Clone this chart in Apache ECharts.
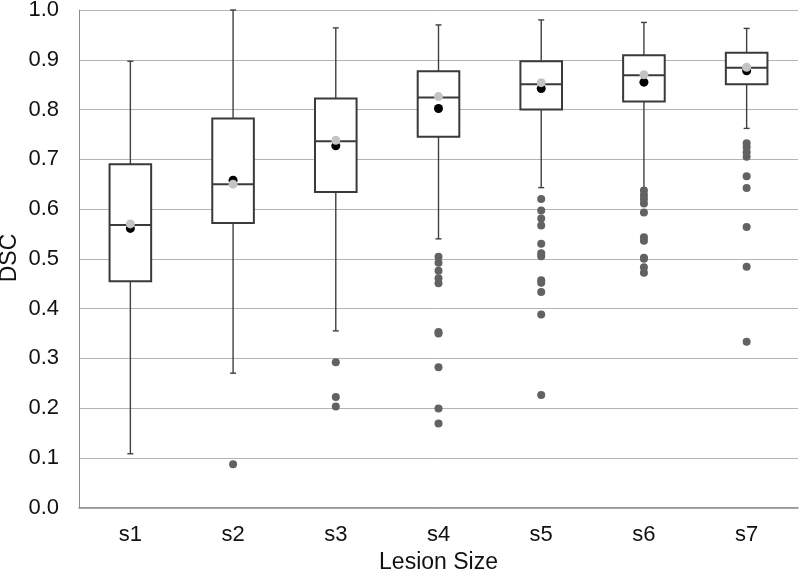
<!DOCTYPE html>
<html>
<head>
<meta charset="utf-8">
<script src="https://cdn.jsdelivr.net/npm/echarts@6/dist/echarts.min.js"></script>
<style>html,body{margin:0;padding:0;background:#fff}#c{width:800px;height:576px}</style>
</head>
<body>
<div id="c"></div>
<script>
const categories = ['s1','s2','s3','s4','s5','s6','s7'];
// [low whisker, Q1, median, Q3, high whisker]
const boxStats = [
  [0.108, 0.455, 0.568, 0.690, 0.897],
  [0.270, 0.572, 0.650, 0.782, 1.000],
  [0.355, 0.634, 0.736, 0.822, 0.964],
  [0.540, 0.745, 0.824, 0.877, 0.970],
  [0.643, 0.800, 0.851, 0.897, 0.980],
  [0.642, 0.816, 0.869, 0.909, 0.975],
  [0.762, 0.851, 0.884, 0.914, 0.963]
];
const meanBlack = [0.561, 0.658, 0.727, 0.802, 0.842, 0.855, 0.878];
const markGray = [0.570, 0.650, 0.738, 0.826, 0.854, 0.870, 0.885];
const outliers = [
  [],
  [0.087],
  [0.292, 0.222, 0.203],
  [0.504, 0.492, 0.476, 0.461, 0.451, 0.353, 0.350, 0.282, 0.199, 0.169],
  [0.620, 0.597, 0.581, 0.567, 0.530, 0.511, 0.505, 0.457, 0.452, 0.433, 0.388, 0.226],
  [0.637, 0.628, 0.620, 0.611, 0.593, 0.543, 0.536, 0.502, 0.500, 0.483, 0.472],
  [0.732, 0.724, 0.714, 0.705, 0.666, 0.642, 0.564, 0.484, 0.333]
];
const yTicks = ['0.0','0.1','0.2','0.3','0.4','0.5','0.6','0.7','0.8','0.9','1.0'];
const xTitle = 'Lesion Size';
const yTitle = 'DSC';

const boxData = boxStats.map((s, i) => [i].concat(s));
const blackData = meanBlack.map((v, i) => [i, v]);
const grayData = markGray.map((v, i) => [i, v]);
const outData = [];
outliers.forEach((arr, i) => arr.forEach(v => outData.push([i, v])));

const FONT = 'Liberation Sans, Arial, sans-serif';
const chart = echarts.init(document.getElementById('c'));
chart.setOption({
  animation: false,
  grid: { left: 79, right: 2, top: 10, bottom: 68.5, containLabel: false, outerBoundsMode: 'none' },
  graphic: [{
    type: 'text',
    x: 10, y: 258,
    rotation: Math.PI / 2,
    style: {
      text: yTitle, fill: '#111',
      font: '23px "Liberation Sans", Arial, sans-serif',
      textAlign: 'center', textVerticalAlign: 'middle', verticalAlign: 'middle', align: 'center'
    }
  }],
  xAxis: {
    type: 'category',
    data: categories,
    boundaryGap: true,
    axisTick: { show: false },
    axisLine: { lineStyle: { color: '#8c8c8c', width: 1.5 } },
    axisLabel: { fontSize: 22, color: '#111', margin: 16, fontFamily: FONT },
    name: xTitle,
    nameLocation: 'middle',
    nameGap: 44,
    nameTextStyle: { fontSize: 23, color: '#111', fontFamily: FONT }
  },
  yAxis: {
    type: 'value',
    min: 0, max: 1, interval: 0.1,
    axisTick: { show: false },
    axisLine: { show: true, lineStyle: { color: '#8c8c8c', width: 1 } },
    splitLine: { lineStyle: { color: '#b4b4b4', width: 1 } },
    axisLabel: {
      fontSize: 22, color: '#111', margin: 20, fontFamily: FONT,
      formatter: v => yTicks[Math.round(v * 10)]
    }
  },
  series: [
    {
      type: 'custom',
      data: boxData,
      z: 2,
      renderItem: function (params, api) {
        const idx = api.value(0);
        const pLow = api.coord([idx, api.value(1)]);
        const pQ1 = api.coord([idx, api.value(2)]);
        const pMed = api.coord([idx, api.value(3)]);
        const pQ3 = api.coord([idx, api.value(4)]);
        const pHigh = api.coord([idx, api.value(5)]);
        const w = api.size([1, 0])[0] * 0.405;
        const cx = pMed[0];
        const cap = 3;
        const wStyle = { stroke: '#404040', lineWidth: 1.4 };
        const bStyle = { stroke: '#3a3a3a', lineWidth: 2, fill: '#fff' };
        return {
          type: 'group',
          children: [
            { type: 'line', shape: { x1: cx, y1: pQ3[1], x2: cx, y2: pHigh[1] }, style: wStyle },
            { type: 'line', shape: { x1: cx - cap, y1: pHigh[1], x2: cx + cap, y2: pHigh[1] }, style: wStyle },
            { type: 'line', shape: { x1: cx, y1: pQ1[1], x2: cx, y2: pLow[1] }, style: wStyle },
            { type: 'line', shape: { x1: cx - cap, y1: pLow[1], x2: cx + cap, y2: pLow[1] }, style: wStyle },
            { type: 'rect', shape: { x: cx - w / 2, y: pQ3[1], width: w, height: pQ1[1] - pQ3[1] }, style: bStyle },
            { type: 'line', shape: { x1: cx - w / 2, y1: pMed[1], x2: cx + w / 2, y2: pMed[1] }, style: { stroke: '#3a3a3a', lineWidth: 2 } }
          ]
        };
      }
    },
    {
      type: 'scatter', data: outData, symbolSize: 8, z: 3,
      itemStyle: { color: '#626262', opacity: 1 }
    },
    {
      type: 'scatter', data: blackData, symbolSize: 9, z: 4,
      itemStyle: { color: '#000', opacity: 1 }
    },
    {
      type: 'scatter', data: grayData, symbolSize: 9, z: 5,
      itemStyle: { color: '#c4c4c4', opacity: 1 }
    }
  ]
});
</script>
</body>
</html>
